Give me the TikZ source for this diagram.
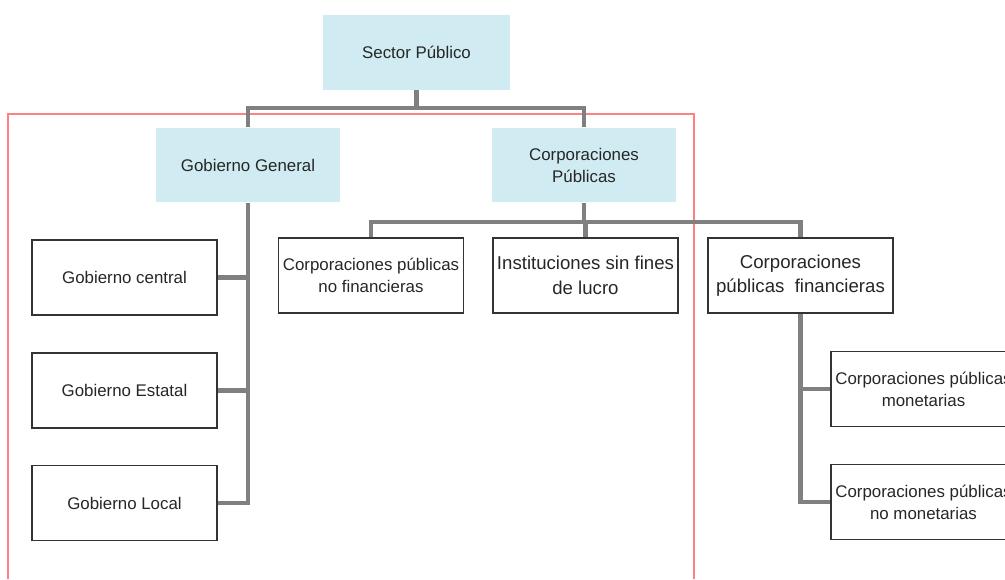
\documentclass[tikz,border=0pt]{standalone}
\usepackage{fontspec}
\setmainfont{Liberation Sans}
\usepackage{tikz}
\usetikzlibrary{positioning}
\definecolor{boxblue}{HTML}{D0ECF2}
\definecolor{linkgray}{HTML}{808080}
\definecolor{framered}{HTML}{FF8080}
\tikzset{
    unit/.style={minimum width=3.7cm, minimum height=1.5cm, align=center,
        inner sep=1pt, text=black!85, font=\fontsize{9.6}{12.5}\selectfont},
    head/.style={unit, fill=boxblue},
    leaf/.style={unit, draw=black!80, line width=0.7pt},
    bigleaf/.style={leaf, font=\fontsize{10.6}{14}\selectfont},
    link/.style={draw=linkgray, line width=2.3pt, line join=miter}
}

\begin{document}
\begin{tikzpicture}[x=0.02cm, y=-0.02cm]
    \useasboundingbox (0,0) rectangle (1005,579);

    \draw[framered, line width=0.6pt] (8,579) -- (8,114) -- (694,114) -- (694,579);

    \node[head, minimum width=3.74cm] (SECTOR) at (416.5,52.5) {Sector Público};
    \node[head] (GG) at (248,165) {Gobierno General};
    \node[head] (CP) at (584,165) {Corporaciones\\Públicas};

    \node[leaf] (GCEN) at (124.5,277.5) {Gobierno central};
    \node[leaf] (GEST) at (124.5,390.5) {Gobierno Estatal};
    \node[leaf] (GLOC) at (124.5,503) {Gobierno Local};

    \node[leaf] (CPNF) at (371,275.5) {Corporaciones públicas\\no financieras};
    \node[bigleaf] (ISFL) at (585.5,275.5) {Instituciones sin fines\\de lucro};
    \node[bigleaf] (CPF) at (800.5,275.5) {Corporaciones\\públicas\ \ financieras};

    \node[leaf] (CPM) at (923.5,389) {Corporaciones públicas\\monetarias};
    \node[leaf] (CPNM) at (923.5,502) {Corporaciones públicas\\no monetarias};

    \draw[link] (SECTOR.south) -- ++(0,18) -| (GG.north);
    \draw[link] (SECTOR.south) -- ++(0,18) -| (CP.north);

    \draw[link] (GG.south) |- (GCEN.east);
    \draw[link] (GG.south) |- (GEST.east);
    \draw[link] (GG.south) |- (GLOC.east);

    \draw[link] (CP.south) -- ++(0,19) -| (CPNF.north);
    \draw[link] (CP.south) -- ++(0,19) -| (ISFL.north);
    \draw[link] (CP.south) -- ++(0,19) -| (CPF.north);

    \draw[link] (CPF.south) |- (CPM.west);
    \draw[link] (CPF.south) |- (CPNM.west);

    % \draw[help lines, step=50] (0,0) grid (1005,579);
\end{tikzpicture}
\end{document}
